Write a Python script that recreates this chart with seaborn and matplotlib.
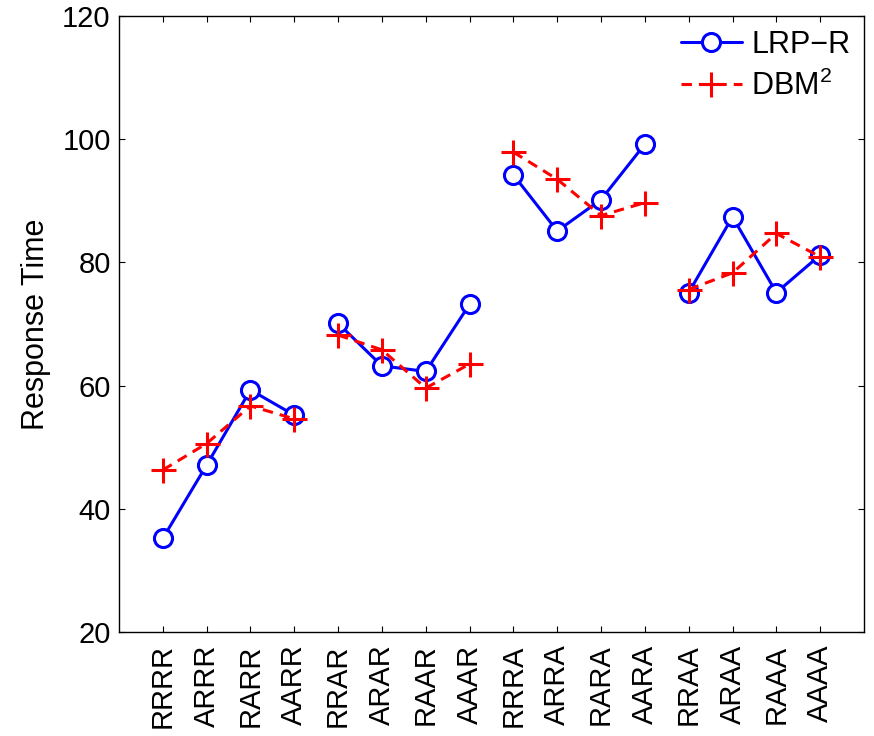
import numpy as np
import pandas as pd
import matplotlib
matplotlib.use("Agg")
import matplotlib.pyplot as plt
import seaborn as sns

categories = ["RRRR", "ARRR", "RARR", "AARR",
              "RRAR", "ARAR", "RAAR", "AAAR",
              "RRRA", "ARRA", "RARA", "AARA",
              "RRAA", "ARAA", "RAAA", "AAAA"]
lrp_r = [35.2, 47.1, 59.3, 55.2,
         70.1, 63.2, 62.3, 73.2,
         94.2, 85.1, 90.2, 99.2,
         75.1, 87.4, 75.1, 81.2]
dbm2 = [46.3, 50.6, 56.7, 54.6,
        68.2, 65.8, 59.6, 63.5,
        97.9, 93.5, 87.6, 89.7,
        75.6, 78.3, 84.7, 80.9]
y_ticks = [20, 40, 60, 80, 100, 120]

sns.set_theme(style="white")
plt.rcParams["font.family"] = ["Liberation Sans", "DejaVu Sans"]
plt.rcParams["mathtext.fontset"] = "custom"
plt.rcParams["mathtext.rm"] = "Liberation Sans"
plt.rcParams["text.color"] = "black"
plt.rcParams["axes.labelcolor"] = "black"

n = len(categories)
df = pd.DataFrame({
    "pos": np.arange(n),
    "group": np.arange(n) // 4,
    "LRP-R": lrp_r,
    "DBM2": dbm2,
})

fig = plt.figure(figsize=(8.74, 7.36), dpi=100)
ax = fig.add_axes([119 / 874, 1 - 632 / 736, (864 - 119) / 874, (632 - 16) / 736])

blue = "#0000ff"
red = "#ff0000"
lw = 2.2
dash_pattern = (3.4, 2.3)

# each block of four conditions is drawn as its own segment
for g, sub in df.groupby("group"):
    sns.lineplot(data=sub, x="pos", y="LRP-R", ax=ax, color=blue,
                 linewidth=lw, marker="o", markersize=13, markerfacecolor="white",
                 markeredgecolor=blue, markeredgewidth=lw,
                 label="LRP\u2212R" if g == 0 else None, legend=False)
    sns.lineplot(data=sub, x="pos", y="DBM2", ax=ax, color=red,
                 linewidth=lw, marker="+", markersize=18,
                 markeredgecolor=red, markeredgewidth=lw,
                 label="DBM$^2$" if g == 0 else None, legend=False)
    ax.get_lines()[-1].set_dashes(dash_pattern)

ax.set_xlim(-1, n)
ax.set_ylim(20, 120)
ax.set_xticks(np.arange(n))
ax.set_xticklabels(categories, rotation=90, fontsize=21)
ax.set_yticks(y_ticks)
ax.set_yticklabels([str(t) for t in y_ticks], fontsize=21)
ax.set_xlabel("")
ax.set_ylabel("Response Time", fontsize=22, labelpad=8, color="black")

ax.tick_params(direction="in", length=4, width=0.8, top=True, right=True,
               bottom=True, left=True, colors="black")
ax.tick_params(axis="x", pad=9)
ax.tick_params(axis="y", pad=6)
for s in ax.spines.values():
    s.set_visible(True)
    s.set_color("black")
    s.set_linewidth(1.0)

leg = ax.legend(loc="upper right", frameon=False, fontsize=22,
                handlelength=2.0, handletextpad=0.3, labelspacing=0.35,
                borderaxespad=0.05)

fig.savefig("out.png", dpi=100, facecolor="white")
